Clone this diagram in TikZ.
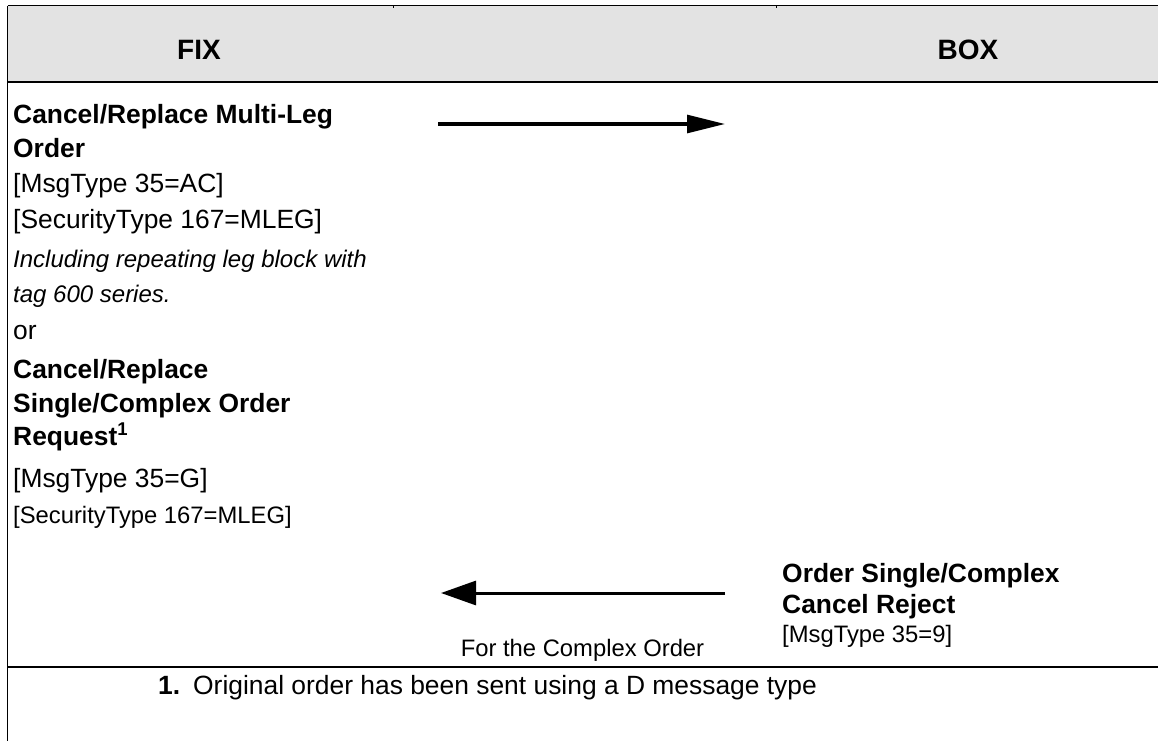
\documentclass[tikz,border=0pt]{standalone}
\usepackage{fontspec}
\setmainfont{Liberation Sans}
\usetikzlibrary{positioning, arrows.meta}
\definecolor{header_gray}{RGB}{227, 227, 227}

\begin{document}
\begin{tikzpicture}[
    x=1pt, y=-1pt,
    % Text lines, each set on its own baseline
    msg_text/.style={
        anchor=base west,
        inner sep=0pt,
        font=\fontsize{26.4}{30}\selectfont
    },
    msg_title/.style={msg_text, font=\fontsize{26.4}{30}\selectfont\bfseries},
    msg_small/.style={msg_text, font=\fontsize{23.8}{28}\selectfont},
    msg_note/.style={msg_text, font=\fontsize{24}{28}\selectfont\itshape},
    head_text/.style={
        anchor=base,
        inner sep=0pt,
        font=\fontsize{28}{32}\selectfont\bfseries
    },
    % Table rules and message arrows
    rule/.style={line width=1.5pt},
    flow/.style={line width=3pt}
]
    \useasboundingbox (0,0) rectangle (1158,741);

    % ==========================================
    % 1. TABLE FRAME & HEADER
    % ==========================================

    \fill [header_gray] (7.5,6) rectangle (1158,82);
    \draw [line width=1pt] (7.5,6) -- (1158,6);
    \draw [line width=1pt] (393,6) -- (393,8.5);
    \draw [line width=1pt] (776,6) -- (776,8.5);
    \draw [line width=2.5pt] (7.5,82) -- (1158,82);
    \draw [rule] (7.5,6) -- (7.5,741);
    \draw [rule] (7.5,667) -- (1158,667);

    \node (fix_head) [head_text] at (199,60) {FIX};
    \node (box_head) [head_text] at (968,60) {BOX};

    % ==========================================
    % 2. FIX SIDE: CANCEL/REPLACE REQUESTS
    % ==========================================

    \node (mleg_title) [msg_title] at (13,124) {Cancel/Replace Multi-Leg};
    \node (mleg_title_b) [msg_title] at (13,157) {Order};
    \node (mleg_type) [msg_text] at (13,192) {[MsgType 35=AC]};
    \node (mleg_sec) [msg_text] at (13,228) {[SecurityType 167=MLEG]};
    \node (mleg_note) [msg_note] at (13,267) {Including repeating leg block with};
    \node (mleg_note_b) [msg_note] at (13,302) {tag 600 series.};
    \node (or_text) [msg_text] at (13,339) {or};
    \node (cplx_title) [msg_title] at (13,378) {Cancel/Replace};
    \node (cplx_title_b) [msg_title] at (13,412) {Single/Complex Order};
    \node (cplx_title_c) [msg_title] at (13,445) {Request\textsuperscript{1}};
    \node (cplx_type) [msg_text] at (13,487) {[MsgType 35=G]};
    \node (cplx_sec) [msg_small] at (13,523) {[SecurityType 167=MLEG]};

    % ==========================================
    % 3. BOX SIDE: CANCEL REJECT
    % ==========================================

    \node (reject_title) [msg_title] at (782,582) {Order Single/Complex};
    \node (reject_title_b) [msg_title] at (782,613) {Cancel Reject};
    \node (reject_type) [msg_small] at (782,642) {[MsgType 35=9]};
    \node (reject_note) [msg_small, anchor=base] at (582.5,656) {For the Complex Order};

    % Message flow arrows
    \coordinate (req_start) at (438,124);
    \coordinate (req_end) at (725,124);
    \draw [flow, -{Triangle[length=38pt, width=18pt]}] (req_start) -- (req_end);

    \coordinate (rej_start) at (725,593);
    \coordinate (rej_end) at (441,593);
    \draw [flow, -{Triangle[length=35pt, width=24pt]}] (rej_start) -- (rej_end);

    % ==========================================
    % 4. FOOTNOTE
    % ==========================================

    \node (fn_num) [msg_title] at (158,694) {1.};
    \node (fn_text) [msg_text] at (193,694) {Original order has been sent using a D message type};

\end{tikzpicture}
\end{document}
